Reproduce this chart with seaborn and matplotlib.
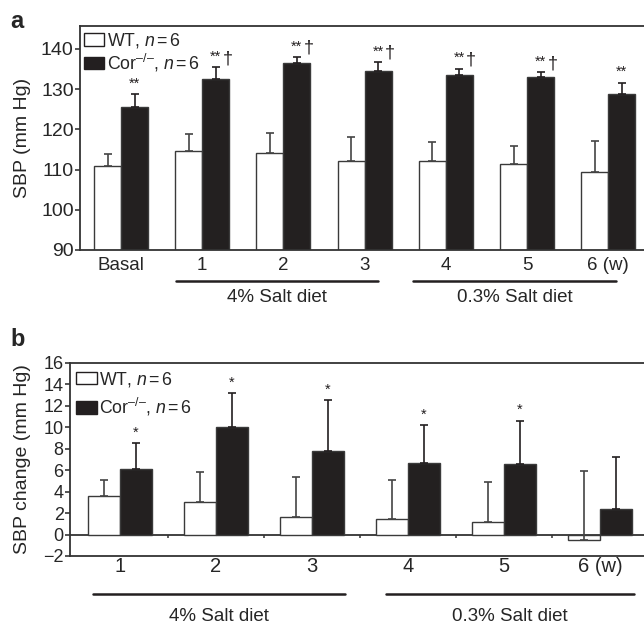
import numpy as np
import pandas as pd
import seaborn as sns
import matplotlib.pyplot as plt
from matplotlib.patches import Patch
from matplotlib.transforms import blended_transform_factory

# panel a: absolute SBP
weeks_a = ["Basal", "1", "2", "3", "4", "5", "6 (w)"]
wt_a = [111.0, 114.7, 114.2, 112.1, 112.2, 111.5, 109.5]
wt_a_err = [2.9, 4.2, 4.8, 5.9, 4.7, 4.4, 7.7]
cor_a = [125.6, 132.6, 136.6, 134.4, 133.6, 133.1, 128.9]
cor_a_err = [3.2, 2.9, 1.4, 2.4, 1.5, 1.1, 2.7]
marks_a = ["**", "**†", "**†", "**†", "**†", "**†", "**"]

# panel b: SBP change from basal
weeks_b = ["1", "2", "3", "4", "5", "6 (w)"]
wt_b = [3.6, 3.05, 1.62, 1.43, 1.15, -0.5]
wt_b_err = [1.47, 2.8, 3.73, 3.67, 3.72, 6.4]
cor_b = [6.1, 10.05, 7.77, 6.7, 6.6, 2.35]
cor_b_err = [2.43, 3.15, 4.79, 3.5, 4.03, 4.9]
marks_b = ["*", "*", "*", "*", "*", ""]

groups = ["WT", "Cor"]
legend_labels = [r"WT, $n\,$=$\,$6", r"Cor$^{–/–}$, $n\,$=$\,$6"]
diet_a = [("4% Salt diet", 0.68, 3.17), ("0.3% Salt diet", 3.6, 6.1)]
diet_b = [("4% Salt diet", -0.28, 2.34), ("0.3% Salt diet", 2.77, 5.36)]

sns.set_style("ticks")
plt.rcParams["font.family"] = ["Liberation Sans", "DejaVu Sans"]
plt.rcParams["mathtext.fontset"] = "custom"
plt.rcParams["mathtext.rm"] = "Liberation Sans"
plt.rcParams["mathtext.it"] = "Liberation Sans:italic"
plt.rcParams["axes.unicode_minus"] = True

dark = "#231f20"
edge = "#3a3a3a"


def long_df(weeks, wt, cor):
    return pd.DataFrame({
        "week": weeks * 2,
        "group": ["WT"] * len(weeks) + ["Cor"] * len(weeks),
        "value": wt + cor,
    })


def draw_panel(ax, weeks, wt, wt_err, cor, cor_err, marks, star_fs):
    df = long_df(weeks, wt, cor)
    sns.barplot(data=df, x="week", y="value", hue="group", hue_order=groups,
                palette=["white", dark], width=0.665, gap=0, errorbar=None,
                edgecolor=edge, linewidth=1.0, ax=ax, legend=False)
    for cont, errs, col in zip(ax.containers, [wt_err, cor_err], ["#444444", dark]):
        xs = [p.get_x() + p.get_width() / 2 for p in cont.patches]
        vals = list(cont.datavalues)
        ax.errorbar(xs, vals, yerr=[np.zeros(len(errs)), errs], fmt="none",
                    ecolor=col, elinewidth=1.2, capsize=3, capthick=1.2, zorder=1)
    cor_cont = ax.containers[1]
    for p, v, e, m in zip(cor_cont.patches, cor_cont.datavalues, cor_err, marks):
        if not m:
            continue
        x = p.get_x() + p.get_width() / 2
        stars = m.replace("†", "")
        ax.annotate(stars, (x, v + e), xytext=(0, 2.5), textcoords="offset points",
                    ha="center", va="bottom", fontsize=star_fs, color=dark)
        if "†" in m:
            ax.annotate("†", (x, v + e), xytext=(5, 0), textcoords="offset points",
                        ha="left", va="bottom", fontsize=13, color=dark)


def style_axes(ax, yfs, xfs):
    for s in ["left", "bottom", "top"]:
        ax.spines[s].set_visible(True)
        ax.spines[s].set_color("#333333")
        ax.spines[s].set_linewidth(1.3)
    ax.spines["right"].set_visible(False)
    ax.tick_params(axis="y", direction="out", length=3.5, width=1.1, labelsize=yfs, pad=1)
    ax.tick_params(axis="x", length=0, labelsize=xfs)
    ax.set_xlabel("")


def diet_lines(ax, diets, yline, ytext, fs):
    tr = blended_transform_factory(ax.transData, ax.transAxes)
    for label, x0, x1 in diets:
        ax.plot([x0, x1], [yline, yline], color=dark, lw=1.8, transform=tr, clip_on=False)
        ax.text((x0 + x1) / 2, ytext, label, transform=tr, ha="center", va="center", fontsize=fs)


fig = plt.figure(figsize=(6.44, 6.25), dpi=100)
ax_a = fig.add_axes([80 / 644, 1 - 250 / 625, 564 / 644, 224 / 625])
ax_b = fig.add_axes([70 / 644, 1 - 556 / 625, 574 / 644, 193 / 625])

# ---- panel a
draw_panel(ax_a, weeks_a, wt_a, wt_a_err, cor_a, cor_a_err, marks_a, 10.5)
style_axes(ax_a, 14, 13.5)
ax_a.set_ylim(90, 145.7)
ax_a.set_yticks(np.arange(90, 141, 10))
ax_a.set_xlim(-0.505, 6.44)
ax_a.set_ylabel("SBP (mm Hg)", fontsize=14, labelpad=7)
ax_a.tick_params(axis="x", pad=5)
diet_lines(ax_a, diet_a, -0.138, -0.21, 13.5)

# ---- panel b
draw_panel(ax_b, weeks_b, wt_b, wt_b_err, cor_b, cor_b_err, marks_b, 10.5)
style_axes(ax_b, 13, 14.5)
ax_b.set_ylim(-2, 16)
ax_b.set_yticks(np.arange(-2, 17, 2))
ax_b.set_xlim(-0.52, 5.46)
ax_b.set_ylabel("SBP change (mm Hg)", fontsize=14, labelpad=9)
ax_b.tick_params(axis="x", pad=1)
ax_b.axhline(0, color="#333333", lw=1.3, zorder=0.5)
bounds = np.arange(len(weeks_b) - 1) + 0.5
ax_b.vlines(bounds, -0.35, 0, color="#333333", lw=1.1)
diet_lines(ax_b, diet_b, -0.197, -0.316, 13.5)

# legends
for ax, anchor, sp in [(ax_a, (-0.012, 1.025), 0.1), (ax_b, (-0.008, 1.02), 0.4)]:
    handles = [Patch(facecolor="white", edgecolor=dark, lw=1.0),
               Patch(facecolor=dark, edgecolor=dark, lw=1.0)]
    ax.legend(handles, legend_labels, loc="upper left", bbox_to_anchor=anchor, frameon=False,
              fontsize=12.8, handlelength=1.15, handleheight=0.7, handletextpad=0.15,
              labelspacing=sp, borderaxespad=0.2)

fig.text(10 / 644, 1 - 22 / 625, "a", fontsize=17, fontweight="bold", va="center")
fig.text(10 / 644, 1 - 340 / 625, "b", fontsize=17, fontweight="bold", va="center")

fig.savefig("out.png", dpi=100)
